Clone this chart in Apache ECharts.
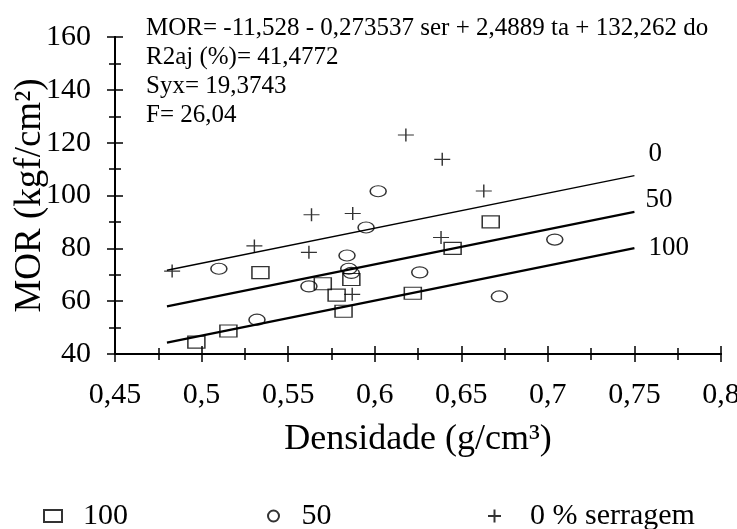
<!DOCTYPE html>
<html>
<head>
<meta charset="utf-8">
<script src="https://cdn.jsdelivr.net/npm/echarts@6/dist/echarts.min.js"></script>
<style>
    html, body { margin: 0; padding: 0; background: #fff; }
    #main { width: 737px; height: 529px; }
</style>
</head>
<body>
<div id="main"></div>
<script>
// pontos: densidade x MOR
var sq100X = [0.497, 0.5155, 0.534, 0.570, 0.578, 0.582, 0.5865, 0.622, 0.645, 0.667];
var sq100Y = [44.5, 48.7, 70.8, 66.6, 62.3, 56.2, 68.2, 63.0, 80.0, 90.0];

var ci50X = [0.510, 0.532, 0.562, 0.584, 0.585, 0.5865, 0.595, 0.602, 0.626, 0.672, 0.704];
var ci50Y = [72.3, 53.0, 65.6, 77.3, 72.3, 70.7, 87.9, 101.6, 70.9, 61.8, 83.3];

var pl0X = [0.483, 0.5305, 0.562, 0.5635, 0.5873, 0.587, 0.618, 0.6383, 0.639, 0.663];
var pl0Y = [71.4, 80.9, 78.5, 92.7, 93.2, 62.6, 122.9, 84.1, 113.7, 101.7];

// retas ajustadas (extremos)
var lineX = [0.48, 0.75];
var line0 = [71.7, 107.5];
var line50 = [58.0, 93.8];
var line100 = [44.3, 80.1];

var eqText = [
    'MOR= -11,528 - 0,273537 ser + 2,4889 ta + 132,262 do',
    'R2aj (%)= 41,4772',
    'Syx= 19,3743',
    'F= 26,04'
];

var FONT = '"Liberation Serif", "Times New Roman", serif';

function pairs(xs, ys) {
    var out = [];
    for (var i = 0; i < xs.length; i++) {
        out.push([xs[i], ys[i]]);
    }
    return out;
}

var myChart = echarts.init(document.getElementById('main'), null, {renderer: 'canvas'});

var tickOut = {show: true, inside: false, length: 8, lineStyle: {color: '#000', width: 1.5}};
var tickIn = {show: true, inside: true, length: 8, lineStyle: {color: '#000', width: 1.5}};
var minorOut = {show: true, splitNumber: 2, length: 6, lineStyle: {color: '#000', width: 1.5}};

var xBase = {
    type: 'value',
    min: 0.45,
    max: 0.8,
    interval: 0.05,
    position: 'bottom',
    axisLine: {show: true, lineStyle: {color: '#000', width: 2}},
    splitLine: {show: false}
};
var yBase = {
    type: 'value',
    min: 40,
    max: 160,
    interval: 20,
    position: 'left',
    axisLine: {show: true, lineStyle: {color: '#000', width: 2}},
    splitLine: {show: false}
};

function lineSeries(name, ys, label, off, w) {
    return {
        name: name,
        type: 'line',
        data: pairs(lineX, ys),
        symbol: 'none',
        silent: true,
        lineStyle: {color: '#000', width: w},
        endLabel: {
            show: true,
            formatter: label,
            offset: off,
            color: '#000',
            fontFamily: FONT,
            fontSize: 27
        },
        z: 1
    };
}

var plusPath = 'path://M0,5L10,5M5,0L5,10';

myChart.setOption({
    backgroundColor: '#fff',
    animation: false,
    grid: {left: 115, right: 16, top: 37, bottom: 175, outerBoundsMode: 'none'},
    graphic: [{
        type: 'text',
        left: 146,
        top: 14,
        style: {
            text: eqText.join('\n'),
            font: '25px ' + FONT,
            lineHeight: 29,
            fill: '#000'
        }
    }],
    legend: [
        {data: ['100'], left: 43, top: 501, padding: 0, itemWidth: 18, itemHeight: 12,
            textStyle: {fontFamily: FONT, fontSize: 30, color: '#000', padding: [0, 0, 0, 16]}},
        {data: ['50'], left: 267, top: 501, padding: 0, itemWidth: 14, itemHeight: 11,
            textStyle: {fontFamily: FONT, fontSize: 30, color: '#000', padding: [0, 0, 0, 16]}},
        {data: ['0 % serragem'], left: 487, top: 501, padding: 0, itemWidth: 13, itemHeight: 13,
            textStyle: {fontFamily: FONT, fontSize: 30, color: '#000', padding: [0, 0, 0, 24]}}
    ],
    xAxis: [
        echarts.util.merge({
            name: 'Densidade (g/cm³)',
            nameLocation: 'middle',
            nameGap: 68,
            nameMoveOverlap: false,
            nameTextStyle: {fontFamily: FONT, fontSize: 36, color: '#000'},
            axisTick: tickOut,
            minorTick: minorOut,
            axisLabel: {
                margin: 26,
                fontFamily: FONT,
                fontSize: 30,
                color: '#000',
                formatter: function (v) { return String(+v.toFixed(2)).replace('.', ','); }
            }
        }, xBase, true),
        echarts.util.merge({
            axisTick: tickIn,
            minorTick: {show: true, splitNumber: 2, length: 6, lineStyle: {color: '#000', width: 1.5}},
            axisLabel: {show: false}
        }, xBase, true)
    ],
    yAxis: [
        echarts.util.merge({
            name: 'MOR (kgf/cm²)',
            nameLocation: 'middle',
            nameGap: 66,
            nameMoveOverlap: false,
            nameTextStyle: {fontFamily: FONT, fontSize: 37, color: '#000'},
            axisTick: tickOut,
            minorTick: minorOut,
            axisLabel: {margin: 24, fontFamily: FONT, fontSize: 30, color: '#000'}
        }, yBase, true),
        echarts.util.merge({
            axisTick: tickIn,
            minorTick: {show: true, splitNumber: 2, length: 6, lineStyle: {color: '#000', width: 1.5}},
            axisLabel: {show: false}
        }, yBase, true)
    ],
    series: [
        {
            name: '100',
            type: 'scatter',
            data: pairs(sq100X, sq100Y),
            symbol: 'rect',
            symbolSize: [17, 12],
            itemStyle: {color: 'rgba(255,255,255,0)', borderColor: '#000', borderWidth: 1.3},
            z: 3
        },
        {
            name: '50',
            type: 'scatter',
            data: pairs(ci50X, ci50Y),
            symbol: 'circle',
            symbolSize: [16, 11],
            itemStyle: {color: 'rgba(255,255,255,0)', borderColor: '#000', borderWidth: 1.3},
            z: 3
        },
        {
            name: '0 % serragem',
            type: 'scatter',
            data: pairs(pl0X, pl0Y),
            symbol: plusPath,
            symbolSize: [16, 13],
            itemStyle: {color: 'rgba(255,255,255,0)', borderColor: '#000', borderWidth: 1.3},
            z: 3
        },
        lineSeries('l0', line0, '0', [6, -22], 1.3),
        lineSeries('l50', line50, '50', [3, -12], 2.2),
        lineSeries('l100', line100, '100', [6, 0], 2.2)
    ]
});
</script>
</body>
</html>
